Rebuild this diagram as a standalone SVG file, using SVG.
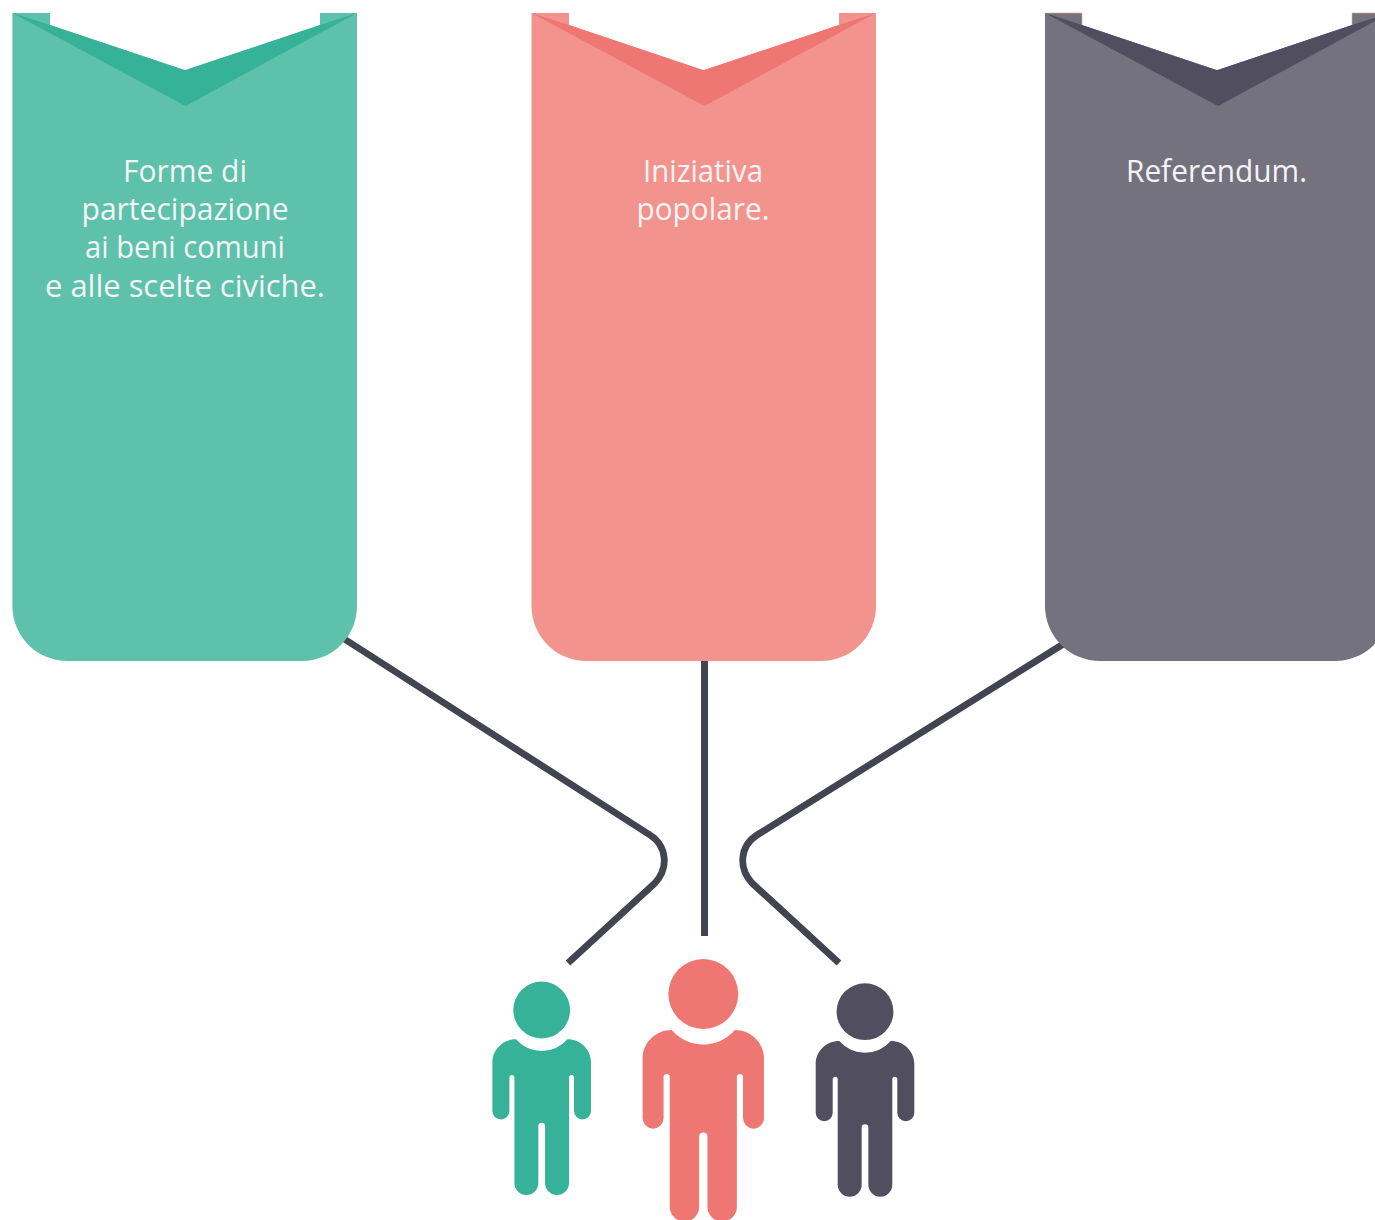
<svg xmlns="http://www.w3.org/2000/svg" width="1375" height="1220" viewBox="0 0 1375 1220">
<style>
.lbl{font-family:"Open Sans","Noto Sans",sans-serif;font-size:31px;font-weight:400;fill:#f4f4f4;text-anchor:middle}
.conn{fill:none;stroke:#42454f;stroke-width:6.800}
</style>
<defs>
<g id="person">
<circle cx="0" cy="0" r="28.4"/>
<path d="M-25.700 29.300A34 34 0 0 0 25.700 29.300C39 29.300 49.300 40 49.300 52V101A8.500 8.500 0 0 1 32.300 101V67.500A2.500 2.500 0 0 0 27.300 67.500V173A11.970 11.970 0 0 1 3.350 173V116A3.350 3.350 0 0 0 -3.350 116V173A11.970 11.970 0 0 1 -27.300 173V67.500A2.500 2.500 0 0 0 -32.300 67.500V101A8.500 8.500 0 0 1 -49.300 101V52C-49.300 40 -39 29.300 -25.700 29.300Z"/>
</g>
</defs>
<rect width="1375" height="1220" fill="#fff"/>
<g id="connectors">
<path class="conn" d="M335 633L650 835C667 846 669 868 655 883L568 963"/>
<path class="conn" style="stroke-width:7" d="M704.500 655V936"/>
<path class="conn" d="M1073 638L757 835C740 846 738 868 752 883L839 963"/>
</g>
<g id="panel-green">
<path fill="#5ec1ab" d="M12.400 13H50V25L185 70.300L320 25V13H357V606A55 55 0 0 1 302 661H67.400A55 55 0 0 1 12.400 606Z"/>
<path fill="#35b297" d="M12.400 13L185.500 106L357 13L320 25L185 70.300L50 25Z"/>
<text class="lbl" x="185" y="181.500" textLength="124" lengthAdjust="spacingAndGlyphs">Forme di</text>
<text class="lbl" x="185" y="219.500" textLength="207" lengthAdjust="spacingAndGlyphs">partecipazione</text>
<text class="lbl" x="185" y="258" textLength="200" lengthAdjust="spacingAndGlyphs">ai beni comuni</text>
<text class="lbl" x="185" y="296.500" textLength="280" lengthAdjust="spacingAndGlyphs">e alle scelte civiche.</text>
</g>
<g id="panel-red">
<path fill="#f2938e" d="M531.500 13H569V25L703.500 70.300L839 25V13H876V606A55 55 0 0 1 821 661H586.500A55 55 0 0 1 531.500 606Z"/>
<path fill="#ee7673" d="M531.500 13L704.500 106L876 13L839 25L703.500 70.300L569 25Z"/>
<text class="lbl" x="703" y="181.500" textLength="120" lengthAdjust="spacingAndGlyphs">Iniziativa</text>
<text class="lbl" x="703" y="219.500" textLength="133" lengthAdjust="spacingAndGlyphs">popolare.</text>
</g>
<g id="panel-grey">
<path fill="#74727f" d="M1045 13H1082V25L1217 70.300L1352 25V13H1390V606A55 55 0 0 1 1335 661H1100A55 55 0 0 1 1045 606Z"/>
<path fill="#504e5f" d="M1045 13L1218 106L1390 13L1352 25L1217 70.300L1082 25Z"/>
<path fill="none" stroke="#e9a48f" stroke-width="0.600" d="M1045 13H1082V25M1352 25V13H1375"/>
<text class="lbl" x="1216.500" y="181.500" textLength="181" lengthAdjust="spacingAndGlyphs">Referendum.</text>
</g>
<g id="person-green" fill="#35b297"><use href="#person" transform="translate(541.700 1010)"/></g>
<g id="person-red" fill="#ee7673"><use href="#person" transform="translate(703.300 994) scale(1.230)"/></g>
<g id="person-grey" fill="#504e5f"><use href="#person" transform="translate(865 1011.700)"/></g>
</svg>
